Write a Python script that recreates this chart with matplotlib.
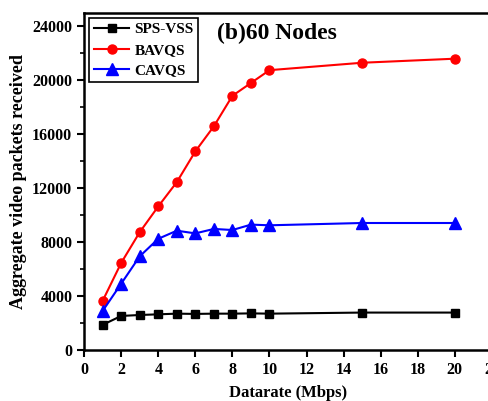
import matplotlib
matplotlib.use("Agg")
import matplotlib.pyplot as plt
from matplotlib.ticker import MultipleLocator

# data
datarate = [1, 2, 3, 4, 5, 6, 7, 8, 9, 10, 15, 20]
sps_vss = [1870, 2530, 2600, 2650, 2700, 2680, 2700, 2700, 2720, 2700, 2780, 2780]
bavqs = [3650, 6460, 8740, 10650, 12450, 14730, 16590, 18850, 19800, 20750, 21300, 21600]
cavqs = [2900, 4920, 6950, 8250, 8850, 8650, 8980, 8900, 9300, 9250, 9420, 9420]

plt.rcParams['font.family'] = ['Liberation Serif', 'DejaVu Serif']
plt.rcParams['font.weight'] = 'bold'

fig = plt.figure(figsize=(4.89, 4.01), dpi=100)
ax = fig.add_axes([0.172, 0.127, 0.834, 0.841])

ax.plot(datarate, sps_vss, color='black', marker='s', markersize=6, linewidth=1.5, label='SPS-VSS')
ax.plot(datarate, bavqs, color='red', marker='o', markersize=6.5, linewidth=1.5, label='BAVQS')
ax.plot(datarate, cavqs, color='blue', marker='^', markersize=8, linewidth=1.5, label='CAVQS')

ax.set_xlim(0, 22)
ax.set_ylim(0, 25000)
ax.xaxis.set_major_locator(MultipleLocator(2))
ax.yaxis.set_major_locator(MultipleLocator(4000))
ax.yaxis.set_minor_locator(MultipleLocator(2000))
ax.tick_params(axis='both', which='major', direction='out', length=5, width=1.5, labelsize=11.5)
ax.tick_params(axis='y', which='minor', direction='out', length=3, width=1.2)
for s in ax.spines.values():
    s.set_linewidth(1.8)

ax.set_xlabel('Datarate (Mbps)', fontsize=12, fontweight='bold', labelpad=5)
ax.set_ylabel('Aggregate video packets received', fontsize=13, fontweight='bold', labelpad=4)

ax.text(0.325, 0.97, '(b)60 Nodes', transform=ax.transAxes, fontsize=17,
        fontweight='bold', va='top', ha='left')

leg = ax.legend(loc='upper left', fontsize=11, handlelength=2.3, borderaxespad=0.35,
                borderpad=0.3, labelspacing=0.45, handletextpad=0.35, fancybox=False,
                edgecolor='black', framealpha=1)
leg.get_frame().set_linewidth(1.2)

fig.savefig('out.png', dpi=100)
